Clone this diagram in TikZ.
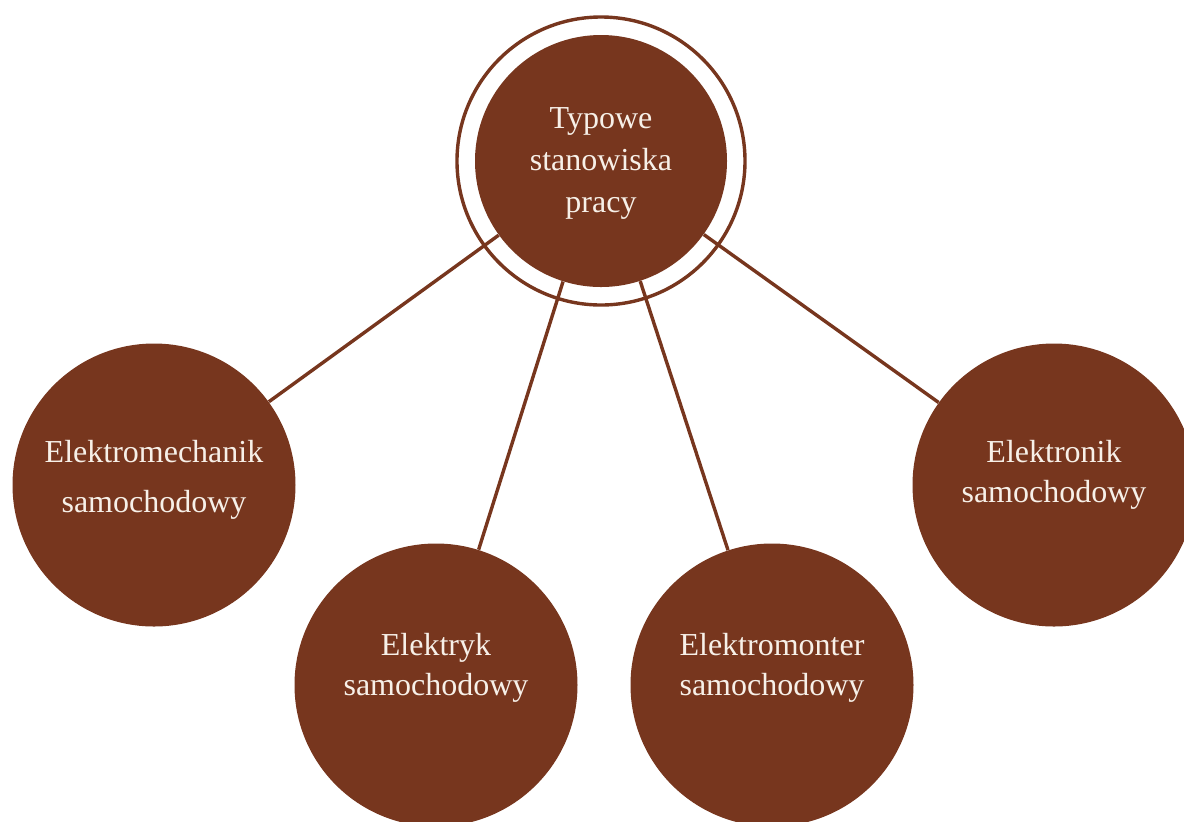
\documentclass[tikz,border=0pt]{standalone}
\usepackage{fontspec}
\setmainfont{Liberation Serif}
\usepackage{xcolor}
\usepackage{tikz}
\definecolor{rust}{HTML}{77361E}
\definecolor{cream}{HTML}{F7F0E8}
\tikzset{
	bubble/.style={circle, fill=rust, text=cream, inner sep=0pt, minimum size=141.5pt, align=center, font=\fontsize{16}{20}\selectfont},
	ring/.style={circle, draw=rust, line width=1.7pt, inner sep=0pt, minimum size=144pt},
	link/.style={draw=rust, line width=1.7pt},
}

\begin{document}
\begin{tikzpicture}[x=0.5pt, y=-0.5pt]
		\useasboundingbox (0,0) rectangle (1184,821);
		\clip (0,0) rectangle (1184,821);

		\node[bubble, minimum size=126pt, text depth=0.5pt, font=\fontsize{16}{21}\selectfont] (typowe) at (601,161) {Typowe\\stanowiska\\pracy};
		\node[ring] (obwod) at (typowe.center) {};

		\node[bubble, text depth=9pt, font=\fontsize{16}{25}\selectfont] (mechanik) at (154,485) {Elektromechanik\\samochodowy};
		\node[bubble, text depth=21pt] (elektryk) at (436,685) {Elektryk\\samochodowy};
		\node[bubble, text depth=21pt] (monter) at (772,685) {Elektromonter\\samochodowy};
		\node[bubble, text depth=14pt] (elektronik) at (1054,485) {Elektronik\\samochodowy};

		\draw[link] (typowe) -- (mechanik);
		\draw[link] (typowe) -- (elektryk);
		\draw[link] (typowe) -- (monter);
		\draw[link] (typowe) -- (elektronik);
	\end{tikzpicture}
\end{document}
